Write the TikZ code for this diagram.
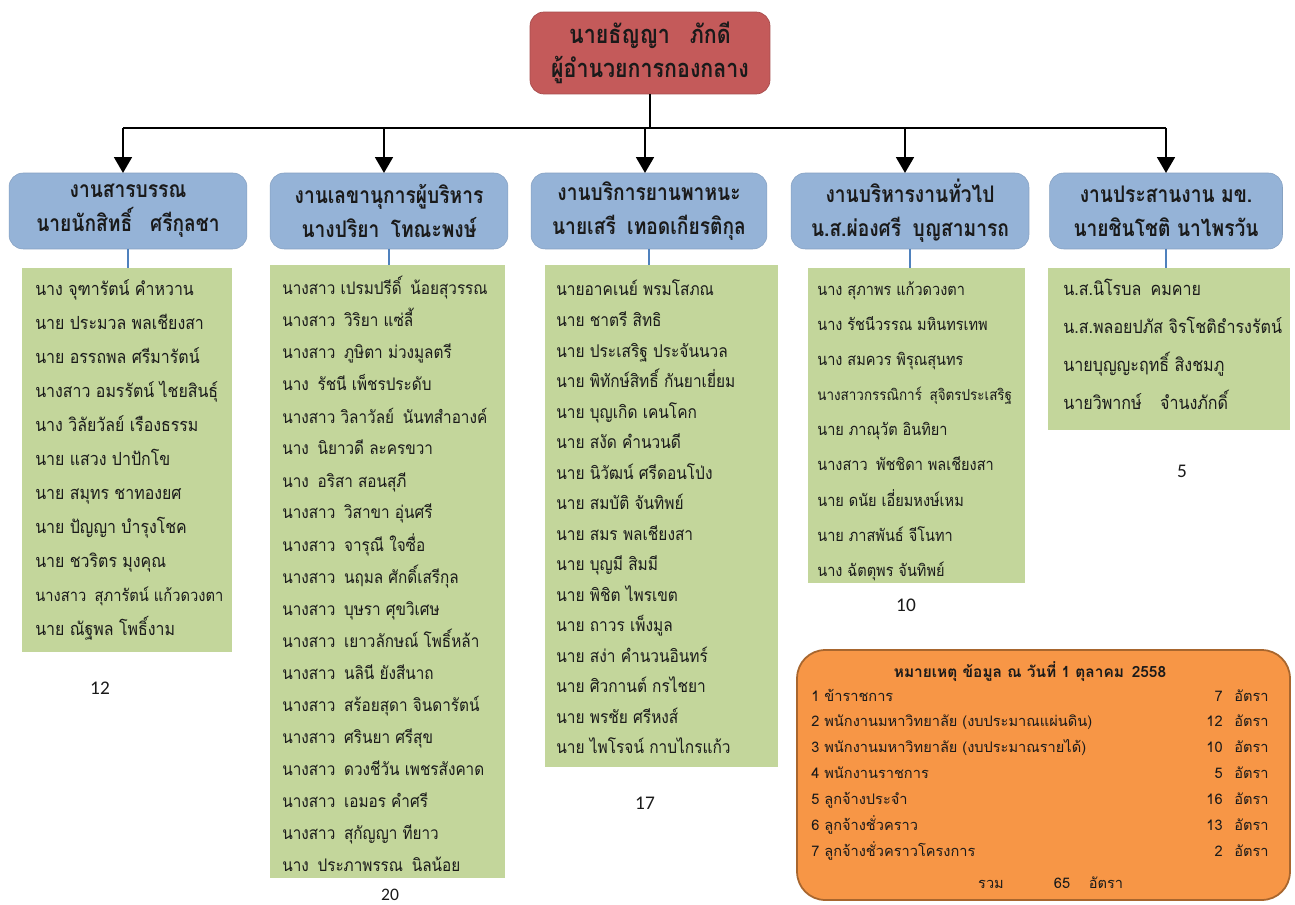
\documentclass[tikz,border=0pt]{standalone}
\usepackage{fontspec}
\newfontfamily\thai[Script=Thai]{Loma}
\newfontfamily\thaic[Script=Thai,FakeStretch=0.88]{Loma}
\newfontfamily\thaih[Script=Thai,FakeStretch=0.84]{Loma}
\newfontfamily\num{Carlito}
\usetikzlibrary{arrows.meta}
\definecolor{hred}{HTML}{C45A5A}
\definecolor{hblue}{HTML}{95B3D7}
\definecolor{hgreen}{HTML}{C3D69B}
\definecolor{horange}{HTML}{F79646}
\definecolor{horangeb}{HTML}{A8662E}
\definecolor{lblue}{HTML}{4F81BD}
\definecolor{txt}{HTML}{1A1A1A}
\tikzset{
  boxbase/.style={inner sep=0pt, outer sep=0pt, text=txt},
  headbox/.style={boxbase, fill=hred, draw=hred!85!black, line width=0.4pt, rounded corners=8pt, align=center, font=\thaih\bfseries\fontsize{14.5}{19.5}\selectfont},
  unitbox/.style={boxbase, fill=hblue, draw=hblue!90!black, line width=0.3pt, rounded corners=8pt, align=center, minimum height=1.52cm, font=\thaih\bfseries\fontsize{13}{19.5}\selectfont},
  listbox/.style={boxbase, fill=hgreen},
  namelbl/.style={anchor=base west, inner sep=0pt, text=txt},
  cntlbl/.style={inner sep=0pt, font=\num\fontsize{11}{13}\selectfont, text=txt},
  notebox/.style={boxbase, fill=horange, draw=horangeb, line width=1pt, rounded corners=16pt},
  notelbl/.style={inner sep=0pt, text=txt, font=\thai\fontsize{8.3}{10}\selectfont},
  bus/.style={line width=1.5pt, black},
  busarrow/.style={line width=1.5pt, black, -{Triangle[length=9pt,width=10pt]}},
  link/.style={line width=1.2pt, lblue}
}
\begin{document}
\begin{tikzpicture}[x=0.02cm,y=-0.02cm]
\useasboundingbox (0,0) rectangle (1295,905);
\fill[white] (0,0) rectangle (1295,905);

% head
\node[headbox, minimum width=4.8cm, minimum height=1.64cm] (head) at (650,53) {นายธัญญา\enspace\ ภักดี\\ผู้อำนวยการกองกลาง};

% unit boxes
\node[unitbox, minimum width=4.76cm] (u1) at (128,211) {งานสารบรรณ\\นายนักสิทธิ์\enspace\ ศรีกุลชา};
\node[unitbox, minimum width=4.76cm] (u2) at (389,211) {งานเลขานุการผู้บริหาร\\นางปริยา\enspace โทณะพงษ์};
\node[unitbox, minimum width=4.72cm] (u3) at (649,211) {งานบริการยานพาหนะ\\นายเสรี\enspace เทอดเกียรติกุล};
\node[unitbox, minimum width=4.76cm] (u4) at (910,211) {งานบริหารงานทั่วไป\\น.ส.ผ่องศรี\enspace บุญสามารถ};
\node[unitbox, minimum width=4.66cm] (u5) at (1166,211) {งานประสานงาน มข.\\นายชินโชติ นาไพรวัน};

% bus
\coordinate (hb) at (650,128);
\coordinate (b1) at (123,128);
\coordinate (b2) at (384,128);
\coordinate (b3) at (645,128);
\coordinate (b4) at (905,128);
\coordinate (b5) at (1166,128);
\draw[bus] (head.south) -- (hb);
\draw[bus] (b1) -- (b5);
\foreach \i in {1,...,5}{
  \draw[busarrow] (b\i) -- (b\i |- u\i.north);
}

% list boxes
\node[listbox, minimum width=4.2cm, minimum height=7.68cm] (g1) at (127,460) {};
\node[listbox, minimum width=4.7cm, minimum height=12.26cm] (g2) at (387.5,571.5) {};
\node[listbox, minimum width=4.66cm, minimum height=10.04cm] (g3) at (661.5,516) {};
\node[listbox, minimum width=4.34cm, minimum height=6.3cm] (g4) at (916.5,425.5) {};
\node[listbox, minimum width=4.84cm, minimum height=3.24cm] (g5) at (1169,349) {};

\foreach \i in {1,...,5}{
  \draw[link] (u\i.south) -- (u\i.south |- g\i.north);
}

% list 1
\begin{scope}[font=\thaic\fontsize{10.3}{12}\selectfont]
\foreach \t [count=\k] in {
  นาง จุฑารัตน์ คำหวาน,
  นาย ประมวล พลเชียงสา,
  นาย อรรถพล ศรีมารัตน์,
  นางสาว อมรรัตน์ ไชยสินธุ์,
  นาง วิลัยวัลย์ เรืองธรรม,
  นาย แสวง ปาปักโข,
  นาย สมุทร ชาทองยศ,
  นาย ปัญญา บำรุงโชค,
  นาย ชวริตร มุงคุณ,
  {\fontsize{9.5}{11}\selectfont นางสาว\enspace สุภารัตน์ แก้วดวงตา},
  นาย ณัฐพล โพธิ์งาม}
  \node[namelbl] (n1-\k) at (35,{296+(\k-1)*33.9}) {\t};
\end{scope}

% list 2
\begin{scope}[font=\thaic\fontsize{9.9}{11}\selectfont]
\foreach \t [count=\k] in {
  นางสาว เปรมปรีดิ์\enspace น้อยสุวรรณ,
  นางสาว\enspace วิริยา แซ่ลี้,
  นางสาว\enspace ภูษิตา ม่วงมูลตรี,
  นาง\enspace รัชนี เพ็ชรประดับ,
  นางสาว วิลาวัลย์\enspace นันทสำอางค์,
  นาง\enspace นิยาวดี ละครขวา,
  นาง\enspace อริสา สอนสุภี,
  นางสาว\enspace วิสาขา อุ่นศรี,
  นางสาว\enspace จารุณี ใจซื่อ,
  นางสาว\enspace นฤมล ศักดิ์เสรีกุล,
  นางสาว\enspace บุษรา ศุขวิเศษ,
  นางสาว\enspace เยาวลักษณ์ โพธิ์หล้า,
  นางสาว\enspace นลินี ยังสีนาถ,
  นางสาว\enspace สร้อยสุดา จินดารัตน์,
  นางสาว\enspace ศรินยา ศรีสุข,
  นางสาว\enspace ดวงชีวัน เพชรสังคาด,
  นางสาว\enspace เอมอร คำศรี,
  นางสาว\enspace สุกัญญา ทียาว,
  นาง\enspace ประภาพรรณ\enspace นิลน้อย}
  \node[namelbl] (n2-\k) at (282,{295+(\k-1)*32}) {\t};
\end{scope}

% list 3
\begin{scope}[font=\thaic\fontsize{10}{11}\selectfont]
\foreach \t [count=\k] in {
  นายอาคเนย์ พรมโสภณ,
  นาย ชาตรี สิทธิ,
  นาย ประเสริฐ ประจันนวล,
  นาย พิทักษ์สิทธิ์ กันยาเยี่ยม,
  นาย บุญเกิด เคนโคก,
  นาย สงัด คำนวนดี,
  นาย นิวัฒน์ ศรีดอนโป่ง,
  นาย สมบัติ จันทิพย์,
  นาย สมร พลเชียงสา,
  นาย บุญมี สิมมี,
  นาย พิชิต ไพรเขต,
  นาย ถาวร เพ็งมูล,
  นาย สง่า คำนวนอินทร์,
  นาย ศิวกานต์ กรไชยา,
  นาย พรชัย ศรีหงส์,
  นาย ไพโรจน์ กาบไกรแก้ว}
  \node[namelbl] (n3-\k) at (556,{296+(\k-1)*30.53}) {\t};
\end{scope}

% list 4
\begin{scope}[font=\thaic\fontsize{9.4}{11}\selectfont]
\foreach \t [count=\k] in {
  นาง สุภาพร แก้วดวงตา,
  นาง รัชนีวรรณ มหินทรเทพ,
  นาง สมควร พิรุณสุนทร,
  {\fontsize{8.7}{11}\selectfont นางสาวกรรณิการ์\enspace สุจิตรประเสริฐ},
  นาย ภาณุวัต อินทิยา,
  นางสาว\enspace พัชชิดา พลเชียงสา,
  นาย ดนัย เอี่ยมหงษ์เหม,
  นาย ภาสพันธ์ จีโนทา,
  นาง ฉัตตุพร จันทิพย์}
  \node[namelbl] (n4-\k) at (817,{296+(\k-1)*35}) {\t};
\end{scope}

% list 5
\begin{scope}[font=\thaic\fontsize{10.4}{13}\selectfont]
\foreach \t [count=\k] in {
  น.ส.นิโรบล\enspace คมคาย,
  น.ส.พลอยปภัส จิรโชติธำรงรัตน์,
  นายบุญญะฤทธิ์ สิงชมภู,
  นายวิพากษ์\quad จำนงภักดิ์}
  \node[namelbl] (n5-\k) at (1063,{296+(\k-1)*37.7}) {\t};
\end{scope}

% counts
\node[cntlbl] (c1) at (100,688) {12};
\node[cntlbl, font=\num\fontsize{10}{12}\selectfont] (c2) at (390,895) {20};
\node[cntlbl] (c3) at (645,803) {17};
\node[cntlbl] (c4) at (906,605) {10};
\node[cntlbl] (c5) at (1182,471) {5};

% note box
\node[notebox, minimum width=9.86cm, minimum height=5cm] (note) at (1043.5,775) {};
\node[notelbl, anchor=base, font=\thai\bfseries\fontsize{8.8}{10}\selectfont] (nt) at (1030,677) {หมายเหตุ ข้อมูล ณ วันที่ 1 ตุลาคม\enspace 2558};
\foreach \t/\n [count=\k] in {
  1 ข้าราชการ/7,
  2 พนักงานมหาวิทยาลัย (งบประมาณแผ่นดิน)/12,
  3 พนักงานมหาวิทยาลัย (งบประมาณรายได้)/10,
  4 พนักงานราชการ/5,
  5 ลูกจ้างประจำ/16,
  6 ลูกจ้างชั่วคราว/13,
  7 ลูกจ้างชั่วคราวโครงการ/2}{
  \node[notelbl, anchor=base west] (ni-\k) at (811,{701+(\k-1)*25.9}) {\t};
  \node[notelbl, anchor=base east] (nn-\k) at (1223,{701+(\k-1)*25.9}) {\n};
  \node[notelbl, anchor=base west] (na-\k) at (1234,{701+(\k-1)*25.9}) {อัตรา};
}
\node[notelbl, anchor=base] (tot1) at (991,888) {รวม};
\node[notelbl, anchor=base] (tot2) at (1062,888) {65};
\node[notelbl, anchor=base] (tot3) at (1106,888) {อัตรา};
\end{tikzpicture}
\end{document}
